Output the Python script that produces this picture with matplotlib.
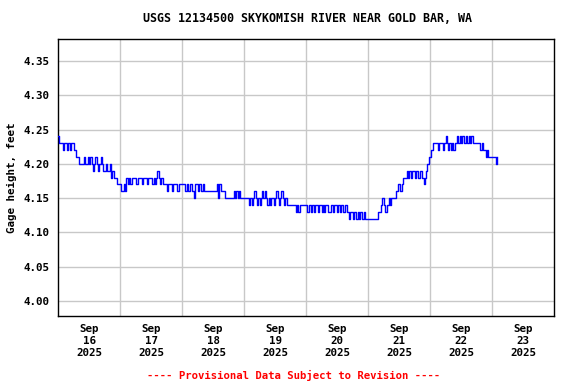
import matplotlib
matplotlib.use("Agg")
import matplotlib.pyplot as plt
import numpy as np
import pandas as pd

title = "USGS 12134500 SKYKOMISH RIVER NEAR GOLD BAR, WA"
ylabel = "Gage height, feet"
note = "---- Provisional Data Subject to Revision ----"

# gage height in hundredths of a foot above 4.00, half-hour readings
sep16 = [24, 23, 23, 23, 22, 23, 23, 22, 23, 22, 23, 23, 22, 22, 21, 21,
         20, 20, 20, 20, 21, 20, 20, 21, 20, 21, 20, 19, 20, 21, 20, 19,
         20, 21, 20, 19, 19, 20, 19, 19, 20, 18, 19, 18, 18, 18, 17, 17]
sep17 = [17, 16, 16, 17, 16, 18, 17, 18, 17, 18, 18, 18, 17, 17, 18, 18,
         18, 17, 18, 18, 18, 17, 18, 18, 18, 17, 18, 17, 18, 19, 18, 17,
         18, 17, 17, 17, 16, 17, 17, 17, 16, 17, 17, 17, 16, 16, 17, 17]
sep18 = [17, 17, 16, 16, 17, 16, 17, 17, 16, 15, 17, 17, 16, 17, 17, 16,
         17, 16, 16, 16, 16, 16, 16, 16, 16, 16, 16, 17, 15, 17, 16, 16,
         16, 15, 15, 15, 15, 15, 15, 15, 16, 15, 16, 15, 16, 15, 15, 15]
sep19 = [15, 15, 15, 15, 14, 15, 14, 15, 16, 15, 14, 15, 14, 15, 16, 15,
         16, 15, 14, 15, 14, 15, 15, 14, 15, 16, 15, 14, 15, 16, 15, 14,
         15, 14, 14, 14, 14, 14, 14, 14, 13, 14, 13, 14, 14, 14, 14, 14]
sep20 = [14, 13, 14, 14, 13, 14, 13, 14, 14, 13, 14, 14, 13, 14, 13, 14,
         14, 13, 13, 14, 14, 13, 14, 14, 13, 14, 13, 14, 14, 13, 14, 14,
         13, 12, 13, 13, 12, 13, 13, 12, 13, 12, 13, 12, 12, 13, 12, 12]
sep21 = [12, 12, 12, 12, 12, 12, 12, 12, 13, 13, 14, 15, 14, 13, 13, 14,
         15, 14, 15, 15, 15, 15, 16, 17, 17, 16, 17, 18, 18, 18, 19, 18,
         19, 18, 19, 19, 18, 19, 19, 18, 19, 19, 18, 17, 18, 19, 20, 21]
sep22 = [21, 22, 23, 23, 23, 23, 22, 23, 23, 23, 22, 23, 24, 23, 22, 23,
         22, 23, 22, 23, 23, 24, 23, 24, 23, 24, 23, 23, 24, 23, 24, 23,
         24, 23, 23, 23, 23, 23, 23, 22, 23, 22, 22, 21, 22, 21, 21, 21]
sep23 = [21, 21, 21, 20, 21]

day_labels = ["Sep\n16\n2025", "Sep\n17\n2025", "Sep\n18\n2025", "Sep\n19\n2025",
              "Sep\n20\n2025", "Sep\n21\n2025", "Sep\n22\n2025", "Sep\n23\n2025"]
yticks = [4.00, 4.05, 4.10, 4.15, 4.20, 4.25, 4.30, 4.35]

vals = np.array(sep16 + sep17 + sep18 + sep19 + sep20 + sep21 + sep22 + sep23) / 100.0 + 4.0
times = pd.date_range("2025-09-16 00:00", periods=len(vals), freq="30min")

mono = "DejaVu Sans Mono"
fig = plt.figure(figsize=(5.76, 3.84), dpi=100)
ax = fig.add_axes([58 / 576, 1 - 316 / 384, 496 / 576, 277 / 384])

ax.plot(times, vals, color="#0000ff", lw=1.0, drawstyle="steps-post", zorder=3)

start = pd.Timestamp("2025-09-16")
ax.set_xlim(start, start + pd.Timedelta(days=8))
ax.set_ylim(3.978, 4.382)

days = pd.date_range(start, periods=9, freq="D")
ax.set_xticks(days[1:-1])
ax.set_xticks(days[:-1] + pd.Timedelta(hours=12), minor=True)
ax.set_xticklabels([], minor=False)
ax.set_xticklabels(day_labels, minor=True, fontfamily=mono, fontweight="bold",
                   fontsize=7.8, linespacing=1.25)
ax.tick_params(axis="x", which="both", length=0, pad=6)
ax.grid(True, axis="x", which="major", color="#c8c8c8", lw=1)

ax.set_yticks(yticks)
ax.set_yticklabels(["%.2f" % v for v in yticks], fontfamily=mono,
                   fontweight="bold", fontsize=7.8)
ax.tick_params(axis="y", length=0, pad=6)
ax.grid(True, axis="y", color="#c8c8c8", lw=1)
ax.set_axisbelow(True)

for s in ax.spines.values():
    s.set_linewidth(1.0)
    s.set_color("black")

ax.set_ylabel(ylabel, fontfamily=mono, fontweight="bold", fontsize=7.8, labelpad=5)
fig.text(0.533, 1 - 19 / 384, title, ha="center", va="center",
         fontfamily=mono, fontweight="bold", fontsize=8.4)
fig.text(0.5095, 1 - 375 / 384, note, ha="center", va="center", color="red",
         fontfamily=mono, fontweight="bold", fontsize=7.7)

fig.savefig("out.png", dpi=100)
